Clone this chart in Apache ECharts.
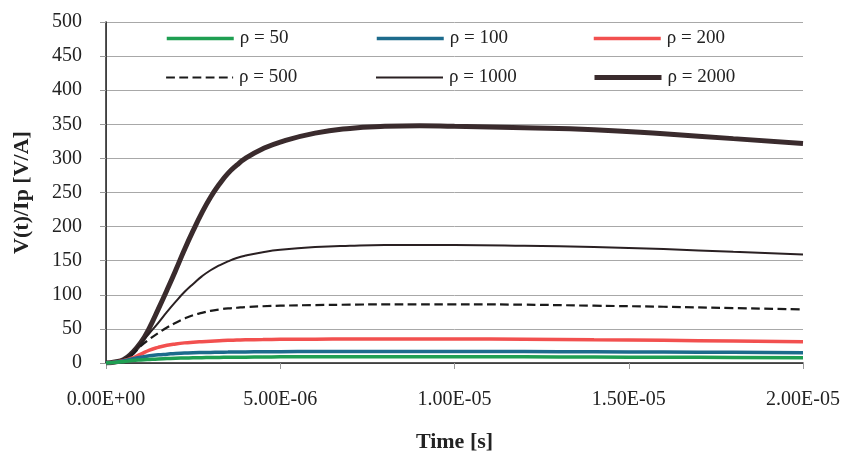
<!DOCTYPE html>
<html>
<head>
<meta charset="utf-8">
<title>V(t)/Ip</title>
<script src="https://cdn.jsdelivr.net/npm/echarts@6/dist/echarts.min.js"></script>
<style>
    html, body { margin: 0; padding: 0; background: #fff; }
    #chart { width: 847px; height: 455px; }
</style>
</head>
<body>
<div id="chart"></div>
<script>
    // time in microseconds (axis labels are shown in seconds)
    var timeUs = [0, 0.25, 0.5, 0.75, 1, 1.25, 1.5, 1.75, 2, 2.25, 2.5, 2.75, 3, 3.25, 3.5, 3.75, 4, 4.5, 5, 6, 7, 8, 9, 10, 12, 14, 16, 18, 20];

    var rho50   = [0, 0.8, 2, 3.5, 4.5, 5.3, 6, 6.5, 7, 7.3, 7.6, 7.8, 8, 8.2, 8.3, 8.5, 8.6, 8.8, 9, 9.1, 9.2, 9.2, 9.2, 9.1, 9, 8.7, 8.4, 8.1, 7.8];
    var rho100  = [0, 1, 3, 6, 8.5, 10.5, 12, 13, 14, 14.5, 15, 15.3, 15.5, 15.8, 16, 16.2, 16.3, 16.5, 16.6, 16.8, 16.9, 17, 17, 17, 16.8, 16.4, 16, 15.6, 15.2];
    var rho200  = [0, 1, 3.5, 7, 13, 19, 23, 26, 28, 29.5, 30.5, 31.3, 32, 32.6, 33.2, 33.6, 34, 34.4, 34.7, 35, 35.2, 35.3, 35.3, 35.2, 34.8, 34, 33.2, 32.3, 31.3];
    var rho500  = [0, 1.5, 4.5, 12, 25, 35, 44, 52, 59, 65, 70, 73.5, 76.5, 78.5, 80, 81, 82, 83.2, 84, 85, 85.5, 86, 86, 86, 85.5, 84, 82.5, 80.5, 78.5];
    var rho1000 = [0, 1.5, 5, 15, 29, 44, 59, 75, 90, 104, 116, 127, 136, 143, 149, 154, 157.5, 162.5, 166, 170, 172, 173, 173, 173, 172, 170, 167, 163, 159];
    var rho2000 = [0, 1.5, 5, 15, 30, 52, 79, 107, 136, 166, 194, 220, 243, 262, 278, 290, 300, 314, 324, 337, 344, 347, 348, 347, 345, 342, 336, 329, 322];

    var names = ['ρ = 50', 'ρ = 100', 'ρ = 200', 'ρ = 500', 'ρ = 1000', 'ρ = 2000'];
    var values = [rho50, rho100, rho200, rho500, rho1000, rho2000];
    var colors = ['#1f9f52', '#1d6b8c', '#f2504f', '#1a1a1a', '#2a2022', '#3a2b2d'];
    var widths = [3.5, 3.5, 3.5, 2.2, 2, 5];
    var dashes = ['solid', 'solid', 'solid', 'dashed', 'solid', 'solid'];

    var serif = 'Liberation Serif';

    function pairs(arr) {
        var out = [];
        for (var i = 0; i < timeUs.length; i++) out.push([timeUs[i], arr[i]]);
        return out;
    }

    function sciLabel(v) {
        var s = (v * 1e-6).toExponential(2).split('e');
        var e = parseInt(s[1], 10);
        var a = Math.abs(e);
        return s[0] + 'E' + (e < 0 ? '-' : '+') + (a < 10 ? '0' : '') + a;
    }

    var series = [];
    for (var k = 0; k < names.length; k++) {
        series.push({
            name: names[k],
            type: 'line',
            data: pairs(values[k]),
            smooth: true,
            symbol: 'none',
            z: 10 - k,
            lineStyle: { color: colors[k], width: widths[k], type: dashes[k] },
            itemStyle: { color: colors[k] }
        });
    }

    // legend laid out as 2 rows x 3 columns inside the plot
    var legendPos = [[165, 27], [375, 27], [592, 27], [165, 66], [375, 66], [592, 66]];
    var legends = [];
    for (var j = 0; j < names.length; j++) {
        legends.push({
            data: [names[j]],
            left: legendPos[j][0],
            top: legendPos[j][1],
            itemWidth: 67,
            itemHeight: 16,
            itemGap: 6,
            padding: [2, 4, 2, 0],
            itemStyle: { opacity: 0, borderWidth: 0 },
            lineStyle: { width: widths[j] },
            textStyle: { fontFamily: serif, fontSize: 19, color: '#222', padding: [0, 0, 0, 1] }
        });
    }

    var chart = echarts.init(document.getElementById('chart'), null, { renderer: 'canvas' });
    var option = {
        backgroundColor: '#fff',
        animation: false,
        grid: { left: 106, right: 44, top: 22, bottom: 92, outerBoundsMode: 'none' },
        legend: legends,
        xAxis: [{
            type: 'value',
            min: 0, max: 20, interval: 5,
            name: 'Time [s]',
            nameLocation: 'middle',
            nameGap: 68,
            nameTextStyle: { fontFamily: serif, fontSize: 22, fontWeight: 'bold', color: '#222' },
            axisLine: { lineStyle: { color: '#999', width: 1 } },
            axisTick: { show: true, length: 6, lineStyle: { color: '#999' } },
            splitLine: { show: false },
            axisLabel: { formatter: sciLabel, margin: 27, fontFamily: serif, fontSize: 20, color: '#222' }
        }, {
            type: 'value',
            position: 'top',
            min: 0, max: 20,
            axisLine: { show: true, lineStyle: { color: '#222', width: 1.5 } },
            axisTick: { show: false },
            axisLabel: { show: false },
            splitLine: { show: false }
        }],
        yAxis: [{
            type: 'value',
            min: 0, max: 500, interval: 50,
            name: 'V(t)/Ip [V/A]',
            nameLocation: 'middle',
            nameGap: 73,
            nameTextStyle: { fontFamily: serif, fontSize: 22, fontWeight: 'bold', color: '#222' },
            axisLine: { show: true, lineStyle: { color: '#999', width: 1 } },
            axisTick: { show: true, length: 6, lineStyle: { color: '#999' } },
            splitLine: { lineStyle: { color: '#a8a8a8', width: 1 } },
            axisLabel: { margin: 24, fontFamily: serif, fontSize: 20, color: '#222' }
        }, {
            type: 'value',
            position: 'right',
            min: 0, max: 500,
            axisLine: { show: true, lineStyle: { color: '#222', width: 1.5 } },
            axisTick: { show: false },
            axisLabel: { show: false },
            splitLine: { show: false }
        }],
        series: series
    };
    chart.setOption(option);

    window.onresize = function () {
        chart.resize();
    };
</script>
</body>
</html>
